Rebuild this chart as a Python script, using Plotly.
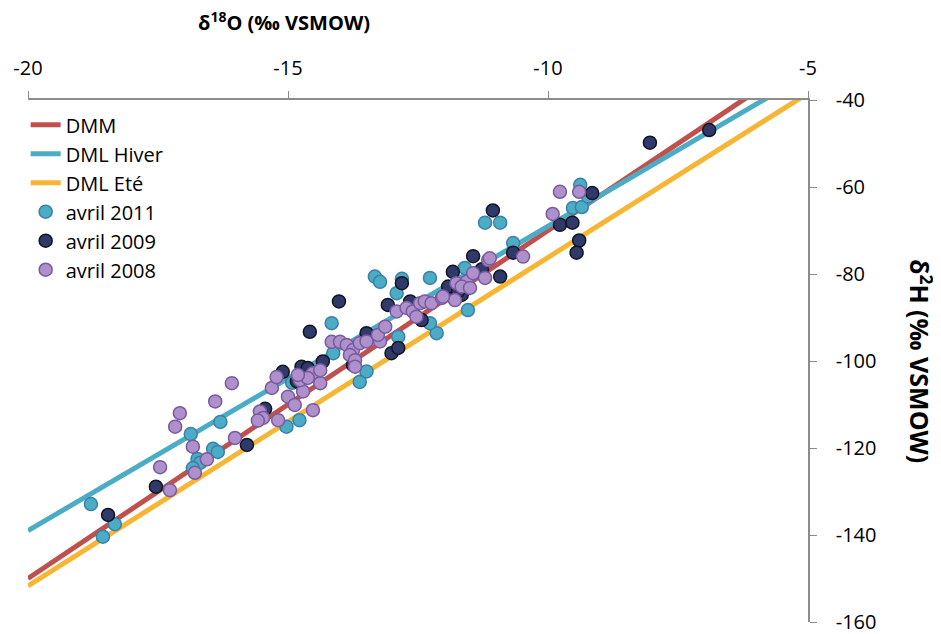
import plotly.graph_objects as go

# Meteoric water lines (endpoints at x = -20 and x = -5)
line_x = [-20, -5]
dmm_y = [-150, -30]
dml_hiver_y = [-139, -34]
dml_ete_y = [-151.7, -38.45]

# avril 2011
a2011_x = [-18.79, -18.33, -18.56, -16.87, -16.74, -16.69, -16.83, -16.44, -16.35, -16.30,
           -15.03, -14.78, -13.62, -13.49, -14.16, -14.13, -13.33, -13.23, -12.88, -12.91,
           -12.27, -12.14, -11.54, -11.60, -12.27, -11.21, -10.92, -10.67, -9.38, -9.52,
           -9.35, -9.23, -12.81, -14.92]
a2011_y = [-132.9, -137.5, -140.4, -116.8, -122.5, -123.4, -124.6, -120.2, -120.9, -114.0,
           -115.1, -113.6, -104.8, -102.4, -91.3, -98.2, -80.6, -81.8, -94.4, -84.4,
           -80.9, -93.6, -88.3, -78.6, -91.3, -68.2, -68.2, -72.9, -59.5, -64.8,
           -64.6, -62.2, -81.1, -105.0]

# avril 2009
a2009_x = [-18.46, -17.54, -15.79, -15.44, -15.10, -14.74, -14.58, -14.62, -14.83, -14.02,
           -11.44, -11.83, -12.81, -13.08, -12.65, -13.49, -13.01, -12.88, -13.75, -14.33,
           -11.88, -11.66, -12.43, -10.67, -11.27, -10.92, -11.92, -11.73, -8.04, -9.15,
           -9.77, -9.53, -9.40, -9.45, -11.06, -6.90]
a2009_y = [-135.4, -128.9, -119.3, -111.0, -102.5, -101.3, -93.3, -101.6, -104.7, -86.3,
           -75.9, -79.5, -82.1, -87.1, -86.3, -93.6, -98.2, -97.0, -100.9, -100.1,
           -83.7, -84.8, -90.6, -75.1, -78.9, -80.6, -82.9, -84.0, -49.8, -61.4,
           -68.7, -68.2, -72.3, -75.1, -65.4, -46.9]

# avril 2008
a2008_x = [-17.08, -17.17, -17.46, -17.27, -16.40, -16.83, -16.56, -16.79, -16.08, -16.02,
           -15.31, -15.22, -15.54, -15.48, -15.58, -15.19, -15.00, -14.87, -14.52, -14.71,
           -14.77, -14.52, -14.38, -14.16, -14.00, -13.87, -13.75, -13.81, -13.62, -13.49,
           -13.71, -13.23, -13.27, -13.13, -12.91, -12.72, -12.60, -12.46, -12.37, -12.24,
           -12.04, -11.79, -11.76, -11.56, -11.66, -11.44, -12.53, -13.71, -14.38, -14.62,
           -14.81, -11.15, -10.48, -11.50, -11.21, -12.02, -9.77, -9.40, -9.91, -11.12]
a2008_y = [-112.0, -115.1, -124.4, -129.7, -109.3, -119.7, -122.6, -125.7, -105.1, -117.7,
           -106.2, -103.7, -111.6, -113.1, -113.7, -113.6, -108.2, -110.1, -111.3, -107.0,
           -104.4, -102.8, -105.1, -95.6, -95.6, -96.3, -97.5, -98.6, -95.9, -95.5,
           -99.8, -95.5, -94.0, -92.1, -88.6, -87.8, -88.6, -86.7, -86.3, -86.7,
           -85.5, -86.0, -82.1, -81.7, -82.9, -79.8, -89.8, -101.3, -102.1, -103.9,
           -103.2, -76.8, -76.0, -83.2, -80.9, -85.2, -61.1, -61.1, -66.2, -76.4]

x_ticks = [-20, -15, -10, -5]
y_ticks = [-40, -60, -80, -100, -120, -140, -160]

FONT = "Open Sans"

fig = go.Figure()
fig.add_trace(go.Scatter(x=line_x, y=dmm_y, mode="lines", name="DMM",
                         line=dict(color="#C0504D", width=5)))
fig.add_trace(go.Scatter(x=line_x, y=dml_hiver_y, mode="lines", name="DML Hiver",
                         line=dict(color="#4BACC6", width=5)))
fig.add_trace(go.Scatter(x=line_x, y=dml_ete_y, mode="lines", name="DML Eté",
                         line=dict(color="#F7B534", width=5)))
fig.add_trace(go.Scatter(x=a2011_x, y=a2011_y, mode="markers", name="avril 2011",
                         marker=dict(size=13, color="#4BACC6",
                                     line=dict(color="#3C7FA8", width=1.5))))
fig.add_trace(go.Scatter(x=a2009_x, y=a2009_y, mode="markers", name="avril 2009",
                         marker=dict(size=13, color="#2F3A6B",
                                     line=dict(color="#111522", width=1.5))))
fig.add_trace(go.Scatter(x=a2008_x, y=a2008_y, mode="markers", name="avril 2008",
                         marker=dict(size=13, color="#AE90CC",
                                     line=dict(color="#7A5A9E", width=1.5))))

# the page body adds an 8 px offset; margins compensate so the plot area
# lands at x 28..808, y 100..622 on screen
fig.update_layout(
    width=933, height=626,
    margin=dict(l=20, r=133, t=92, b=12),
    paper_bgcolor="white", plot_bgcolor="white",
    font=dict(family=FONT, color="black"),
    showlegend=True,
    legend=dict(x=-0.003, y=0.99, xanchor="left", yanchor="top",
                bgcolor="rgba(255,255,255,0)", font=dict(size=20, family=FONT),
                itemwidth=30, tracegroupgap=0),
    xaxis=dict(range=[-20, -5], side="top", tickvals=x_ticks,
               ticktext=[str(v) for v in x_ticks], automargin=False,
               showgrid=False, zeroline=False, showline=True,
               linecolor="#8c8c8c", linewidth=1.5, ticks="outside",
               tickcolor="#8c8c8c", ticklen=7, ticklabelstandoff=8,
               ticklabeloverflow="allow", tickfont=dict(size=20)),
    yaxis=dict(range=[-160, -40], side="right", tickvals=y_ticks,
               ticktext=[str(v) for v in y_ticks], automargin=False,
               showgrid=False, zeroline=False, showline=True,
               linecolor="#8c8c8c", linewidth=1.5, ticks="outside",
               tickcolor="#8c8c8c", ticklen=7, ticklabelstandoff=15,
               ticklabeloverflow="allow", tickfont=dict(size=20)),
    annotations=[
        dict(text="<b>δ<sup>18</sup>O (‰ VSMOW)</b>", xref="paper", yref="paper",
             x=0.3276, y=1.0, yshift=62, xanchor="center", yanchor="bottom",
             showarrow=False, font=dict(size=20, family=FONT)),
        dict(text="<b>δ<sup>2</sup>H (‰ VSMOW)</b>", xref="paper", yref="paper",
             x=1.0, xshift=113, y=0.50, xanchor="center", yanchor="middle",
             textangle=90, showarrow=False, font=dict(size=25, family=FONT)),
    ],
)

fig.write_html("out.html")
